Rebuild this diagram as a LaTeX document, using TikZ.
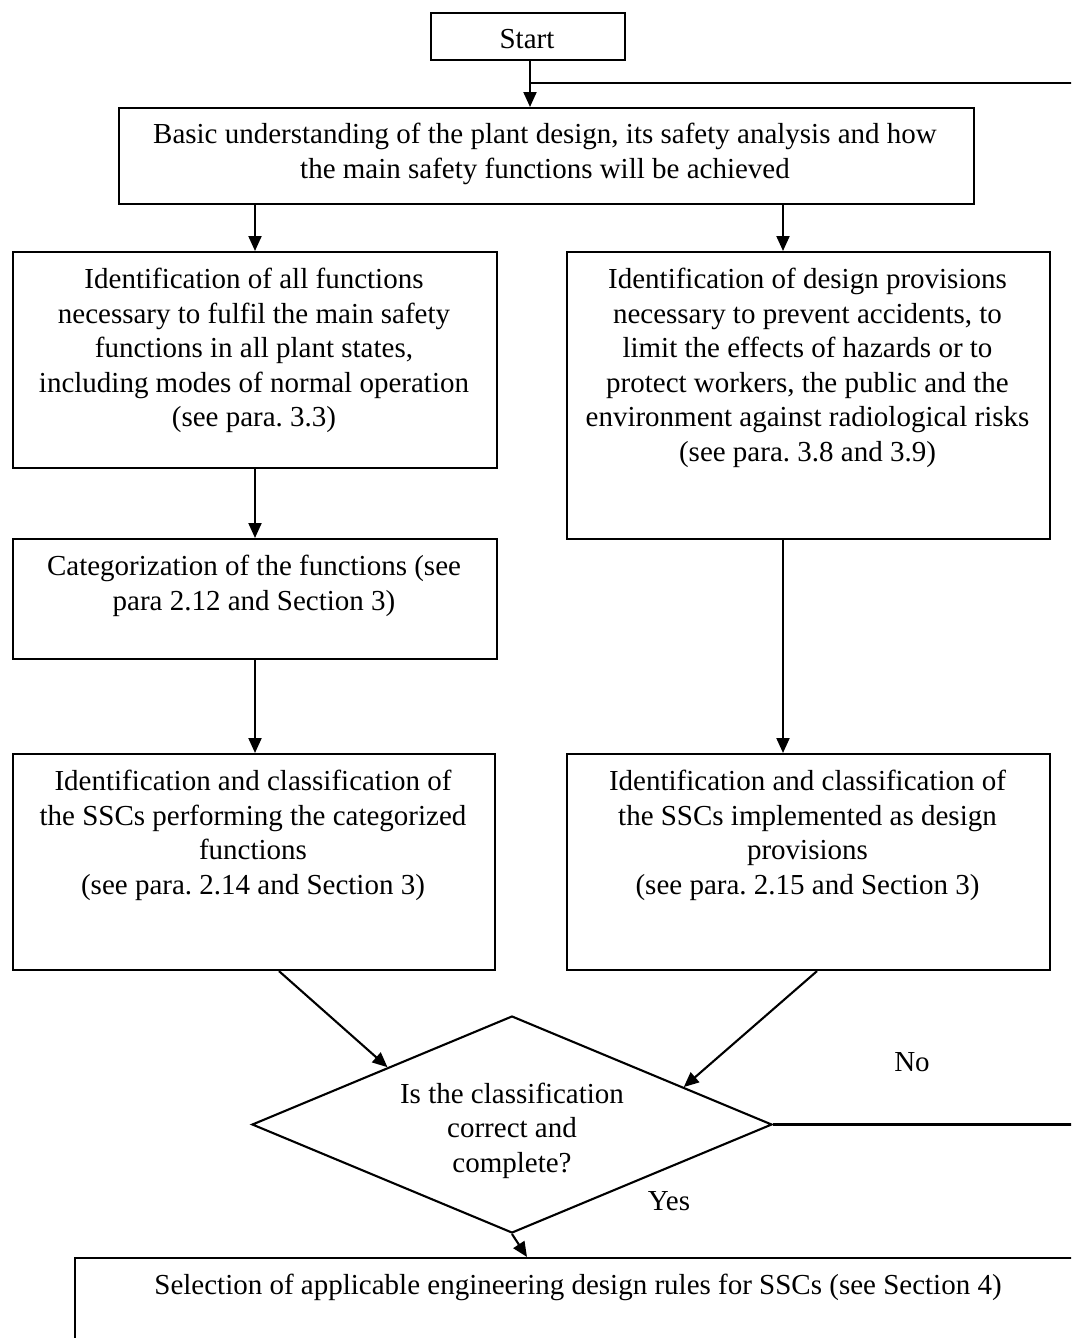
\documentclass[tikz,border=0pt]{standalone}
\usepackage{fontspec}
\setmainfont{Liberation Serif}
\usetikzlibrary{arrows.meta,shapes.geometric,calc}
\frenchspacing
\begin{document}
\begin{tikzpicture}[x=1pt,y=-1pt,
  every node/.style={font=\fontsize{29}{34.5}\selectfont},
  box/.style={draw, line width=2.1pt, rectangle, inner sep=0pt, anchor=north west},
  txt/.style={align=center, inner sep=0pt, anchor=north},
  lbl/.style={inner sep=0pt, anchor=base},
  arr/.style={line width=2.1pt, -{Triangle[length=15pt,width=13pt]}},
  ln/.style={line width=2.1pt}]
\useasboundingbox (0,0) rectangle (1071,1338);
\clip (0,0) rectangle (1071,1338);

% boxes
\node[box, minimum width=194pt, minimum height=47pt]  (start) at (430,12)  {};
\node[box, minimum width=855pt, minimum height=96pt]  (box1)  at (118,107) {};
\node[box, minimum width=484pt, minimum height=216pt] (box2L) at (12,251)  {};
\node[box, minimum width=483pt, minimum height=287pt] (box2R) at (566,251) {};
\node[box, minimum width=484pt, minimum height=120pt] (box3L) at (12,538)  {};
\node[box, minimum width=482pt, minimum height=216pt] (box4L) at (12,753)  {};
\node[box, minimum width=483pt, minimum height=216pt] (box4R) at (566,753) {};
\node[box, minimum width=1008pt, minimum height=150pt] (box5) at (74,1257) {};
\node[draw, line width=2.1pt, diamond, inner sep=0pt,
      minimum width=520pt, minimum height=217pt] (dec) at (512,1124.5) {};

% texts (first baseline 37.5 below the box top)
\node[txt] (tstart) at (527,23.9) {\strut Start};
\node[txt] (t1) at (545,119.4) {\strut Basic understanding of the plant design, its safety analysis and how\\
  the main safety functions will be achieved};
\node[txt] (t2L) at (254,264.4) {\strut Identification of all functions\\
  necessary to fulfil the main safety\\
  functions in all plant states,\\
  including modes of normal operation\\
  (see para. 3.3)};
\node[txt] (t2R) at (807.5,264.4) {\strut Identification of design provisions\\
  necessary to prevent accidents, to\\
  limit the effects of hazards or to\\
  protect workers, the public and the\\
  environment against radiological risks\\
  (see para. 3.8 and 3.9)};
\node[txt] (t3L) at (254,551.4) {\strut Categorization of the functions (see\\
  para 2.12 and Section 3)};
\node[txt] (t4L) at (253,766.4) {\strut Identification and classification of\\
  the SSCs performing the categorized\\
  functions\\
  (see para. 2.14 and Section 3)};
\node[txt] (t4R) at (807.5,766.4) {\strut Identification and classification of\\
  the SSCs implemented as design\\
  provisions\\
  (see para. 2.15 and Section 3)};
\node[txt] (tdec) at (512,1078.9) {\strut Is the classification\\ correct and\\ complete?};
\node[txt] (t5) at (578,1270.4) {\strut Selection of applicable engineering design rules for SSCs (see Section 4)};
\node[lbl] (no)  at (912,1071) {No};
\node[lbl] (yes) at (669,1210) {Yes};

% connector columns
\coordinate (j) at (530,83);
\coordinate (loop) at (1073,83);
\coordinate (colL) at (255,0);
\coordinate (colR) at (783,0);

% connectors
\draw[arr] (start.south -| j) -- (box1.north -| j);
\draw[arr] (box1.south -| colL) -- (box2L.north -| colL);
\draw[arr] (box1.south -| colR) -- (box2R.north -| colR);
\draw[arr] (box2L.south -| colL) -- (box3L.north -| colL);
\draw[arr] (box3L.south -| colL) -- (box4L.north -| colL);
\draw[arr] (box2R.south -| colR) -- (box4R.north -| colR);
\draw[arr] ($(box4L.south west)+(267,0)$) -- ($(dec.north)!0.477!(dec.west)$);
\draw[arr] ($(box4R.south west)+(251,0)$) -- ($(dec.north)!0.658!(dec.east)$);
\draw[arr] (dec.south) -- ($(box5.north west)+(453,0)$);
\draw[ln] (dec.east) -- (dec.east -| loop) -- (loop) -- (j);
\end{tikzpicture}
\end{document}
